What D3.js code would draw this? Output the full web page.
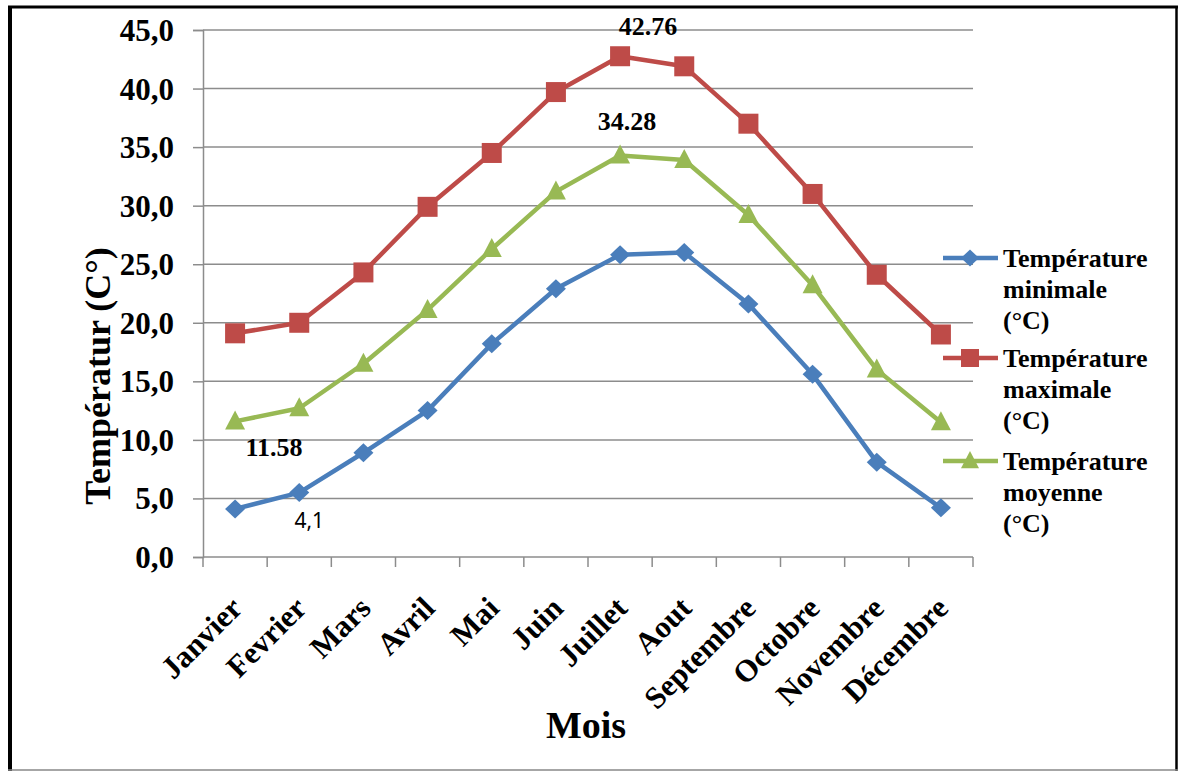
<!DOCTYPE html>
<html>
<head>
<meta charset="utf-8">
<script src="https://cdn.jsdelivr.net/npm/d3@7"></script>
<style>
  body { margin: 0; background: #fff; }
  svg { display: block; }
</style>
</head>
<body>
<script>
const months = ["Janvier", "Fevrier", "Mars", "Avril", "Mai", "Juin", "Juillet", "Aout", "Septembre", "Octobre", "Novembre", "Décembre"]
const tMin = [4.1, 5.5, 8.9, 12.5, 18.2, 22.9, 25.8, 26.0, 21.6, 15.6, 8.1, 4.2]
const tMax = [19.1, 20.0, 24.3, 29.9, 34.5, 39.7, 42.76, 41.9, 37.0, 31.0, 24.1, 19.0]
const tMoy = [11.58, 12.7, 16.5, 21.1, 26.3, 31.2, 34.28, 33.9, 29.2, 23.2, 16.0, 11.5]
const yTicks = [0, 5, 10, 15, 20, 25, 30, 35, 40, 45]

const width = 1179, height = 771
const serif = "'Liberation Serif', 'Times New Roman', serif"

const svg = d3.select("body").append("svg")
  .attr("width", width)
  .attr("height", height)

// frame
svg.append("line").attr("x1", 10).attr("x2", 10).attr("y1", 6).attr("y2", 771)
  .attr("stroke", "#000").attr("stroke-width", 4)
svg.append("line").attr("x1", 8).attr("x2", 1178).attr("y1", 7).attr("y2", 7)
  .attr("stroke", "#000").attr("stroke-width", 3)
svg.append("line").attr("x1", 1176.5).attr("x2", 1176.5).attr("y1", 6).attr("y2", 771)
  .attr("stroke", "#000").attr("stroke-width", 2.5)
svg.append("line").attr("x1", 8).attr("x2", 1178).attr("y1", 770).attr("y2", 770)
  .attr("stroke", "#888").attr("stroke-width", 1.5)

const x = d3.scaleBand().domain(months).range([203, 973])
const y = d3.scaleLinear().domain([0, 45]).range([557, 30])
const cx = d => x(d) + x.bandwidth() / 2

// gridlines
svg.append("g")
  .selectAll("line")
  .data(yTicks.slice(1))
  .join("line")
    .attr("x1", 203).attr("x2", 973)
    .attr("y1", d => y(d)).attr("y2", d => y(d))
    .attr("stroke", "#8c8c8c").attr("stroke-width", 1.5)

// y axis
const yAxis = svg.append("g")
  .attr("transform", "translate(203,0)")
  .call(d3.axisLeft(y).tickValues(yTicks).tickSize(10).tickPadding(19)
    .tickFormat(d => d3.format(".1f")(d).replace(".", ",")))
yAxis.select(".domain").attr("stroke", "#8c8c8c").attr("stroke-width", 1.5)
yAxis.selectAll(".tick line").attr("stroke", "#8c8c8c").attr("stroke-width", 1.5)
yAxis.selectAll("text")
  .attr("font-family", serif).attr("font-size", 31).attr("font-weight", "bold")
  .attr("fill", "#000").attr("dy", "0.34em")

// x axis
const xScaleTicks = d3.scaleLinear().domain([0, months.length]).range([203, 973])
const xAxis = svg.append("g")
  .attr("transform", "translate(0,557)")
xAxis.append("line").attr("x1", 203).attr("x2", 973)
  .attr("stroke", "#8c8c8c").attr("stroke-width", 1.5)
xAxis.selectAll(".tk")
  .data(d3.range(months.length + 1))
  .join("line")
    .attr("x1", d => xScaleTicks(d)).attr("x2", d => xScaleTicks(d))
    .attr("y1", 0).attr("y2", 10)
    .attr("stroke", "#8c8c8c").attr("stroke-width", 1.5)
xAxis.selectAll("text")
  .data(months)
  .join("text")
    .attr("transform", d => `translate(${cx(d) + 9},${53}) rotate(-45)`)
    .attr("text-anchor", "end")
    .attr("font-family", serif).attr("font-size", 31).attr("font-weight", "bold")
    .text(d => d)

// axis titles
svg.append("text")
  .attr("transform", "translate(110,376) rotate(-90)")
  .attr("text-anchor", "middle")
  .attr("font-family", serif).attr("font-size", 36).attr("font-weight", "bold")
  .text("Températur (C°)")
svg.append("text")
  .attr("x", 586).attr("y", 738)
  .attr("text-anchor", "middle")
  .attr("font-family", serif).attr("font-size", 38).attr("font-weight", "bold")
  .text("Mois")

// marker shapes
const diamond = "M0,-9.5L10,0L0,9.5L-10,0Z"
const square = "M-10,-10H10V10H-10Z"
const triangle = "M0,-11L10,8H-10Z"

const series = [
  {name: "minimale", values: tMin, color: "#4a7ebb", shape: diamond, legendY: 258},
  {name: "maximale", values: tMax, color: "#be4b48", shape: square, legendY: 358},
  {name: "moyenne", values: tMoy, color: "#98b954", shape: triangle, legendY: 461}
]

const line = d3.line().x(d => cx(d.m)).y(d => y(d.v))

series.forEach(s => {
  const pts = months.map((m, i) => ({m, v: s.values[i]}))
  const g = svg.append("g")
  g.append("path")
    .datum(pts)
    .attr("d", line)
    .attr("fill", "none")
    .attr("stroke", s.color)
    .attr("stroke-width", 4.5)
    .attr("stroke-linejoin", "round")
  g.selectAll("path.mk")
    .data(pts)
    .join("path")
      .attr("class", "mk")
      .attr("transform", d => `translate(${cx(d.m)},${y(d.v)})`)
      .attr("d", s.shape)
      .attr("fill", s.color)

  // legend
  const lg = svg.append("g").attr("transform", `translate(943,${s.legendY})`)
  lg.append("line").attr("x1", 0).attr("x2", 55)
    .attr("stroke", s.color).attr("stroke-width", 4.5)
  lg.append("path")
    .attr("transform", "translate(27,0) scale(0.9)")
    .attr("d", s.shape)
    .attr("fill", s.color)
  const txt = lg.append("text")
    .attr("font-family", serif).attr("font-size", 26).attr("font-weight", "bold")
  ;["Température", s.name, "(°C)"].forEach((t, i) => {
    txt.append("tspan").attr("x", 60).attr("y", 9 + i * 31).text(t)
  })
})

// value annotations
const bold = (sel) => sel.attr("text-anchor", "middle")
  .attr("font-family", serif).attr("font-size", 26).attr("font-weight", "bold")
svg.append("text").call(bold)
  .attr("x", cx("Juillet") + 28).attr("y", 35)
  .text(tMax[6].toFixed(2))
svg.append("text").call(bold)
  .attr("x", cx("Juillet") + 7).attr("y", 130)
  .text(tMoy[6].toFixed(2))
svg.append("text").call(bold)
  .attr("x", cx("Janvier") + 39).attr("y", 456)
  .text(tMoy[0].toFixed(2))
svg.append("text")
  .attr("x", cx("Fevrier") + 10).attr("y", 528)
  .attr("text-anchor", "middle")
  .attr("font-family", "'Noto Sans', 'Liberation Sans', sans-serif").attr("font-size", 21)
  .text(String(tMin[0]).replace(".", ","))
</script>
</body>
</html>
